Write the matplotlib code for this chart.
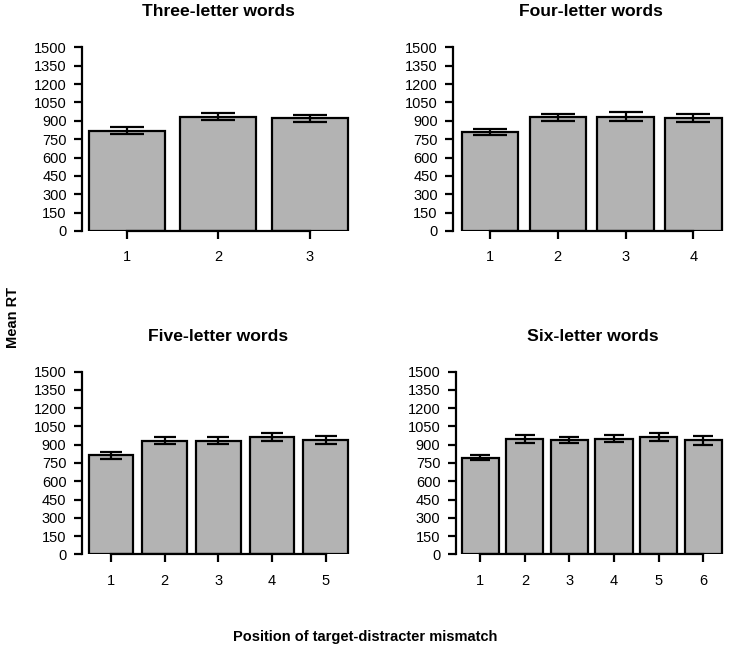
import numpy as np
import matplotlib
matplotlib.use("Agg")
import matplotlib.pyplot as plt

plt.rcParams['font.family'] = ['Liberation Sans', 'DejaVu Sans']

# Mittelwerte und Fehlerbalken je Wortlänge
titles = ['Three-letter words', 'Four-letter words', 'Five-letter words', 'Six-letter words']
means = [
    [820, 934, 921],
    [809, 929, 932, 921],
    [813, 933, 933, 964, 939],
    [794, 947, 939, 950, 964, 936],
]
errors = [
    [28, 31, 29],
    [27, 27, 37, 33],
    [27, 29, 29, 31, 33],
    [23, 31, 25, 27, 30, 36],
]
yticks = np.arange(0, 1501, 150)

W, H = 729, 657
fig = plt.figure(figsize=(W / 100, H / 100), dpi=100)

# (Achse links px, rechts px, y0 px, y1500 px, Balken links px, Kappe pt)
layout = [
    (82.0, 354.0, 231.0, 47.3, 88.7, 12.0),
    (453.0, 729.0, 231.0, 47.3, 461.7, 12.5),
    (81.7, 355.0, 554.3, 371.7, 88.7, 8.0),
    (455.7, 729.0, 554.3, 371.7, 461.7, 7.5),
]
bar_right_px = [348.0, 721.7, 348.0, 721.7]

for k in range(4):
    left, right, y0, y1, bl, cap = layout[k]
    n = len(means[k])
    ax = fig.add_axes([left / W, 1 - y0 / H, (right - left) / W, (y0 - y1) / H])
    # R barplot: Breite 1, Abstand 0.2
    x = 0.7 + 1.2 * np.arange(n)
    scale = (bar_right_px[k] - bl) / (1.2 * n - 0.2)
    pad = (bl - left) / scale
    ax.set_xlim(0.2 - pad, 0.2 - pad + (right - left) / scale)
    ax.set_ylim(0, 1500)
    ax.bar(x, means[k], width=1.0, color='#b3b3b3', edgecolor='black', linewidth=1.6, zorder=2)
    ax.errorbar(x, means[k], yerr=errors[k], fmt='none', ecolor='black',
                elinewidth=1.6, capsize=cap, capthick=1.6, zorder=3)
    for s in ['top', 'right']:
        ax.spines[s].set_visible(False)
    ax.spines['left'].set_bounds(0, 1500)
    ax.spines['left'].set_linewidth(1.6)
    ax.spines['bottom'].set_bounds(x[0], x[-1])
    ax.spines['bottom'].set_linewidth(1.6)
    ax.set_yticks(yticks)
    ax.set_yticklabels([str(v) for v in yticks])
    ax.set_xticks(x)
    ax.set_xticklabels([str(i + 1) for i in range(n)])
    ax.tick_params(axis='both', length=6, width=1.6, labelsize=10.5, colors='black')
    ax.tick_params(axis='y', pad=5)
    ax.tick_params(axis='x', pad=8)
    ax.patch.set_visible(False)
    ty = 1 + 35.5 / (y0 - y1)
    ax.text(0.5, ty, titles[k], transform=ax.transAxes, ha='center', va='center',
            fontsize=12.6, fontweight='bold')

fig.text(13 / W, 1 - 317 / H, 'Mean RT', rotation=90, ha='center', va='center',
         fontsize=10.5, fontweight='bold')
fig.text(365 / W, 1 - 637 / H, 'Position of target-distracter mismatch', ha='center',
         va='center', fontsize=10.5, fontweight='bold')

fig.savefig('out.png', dpi=100)
